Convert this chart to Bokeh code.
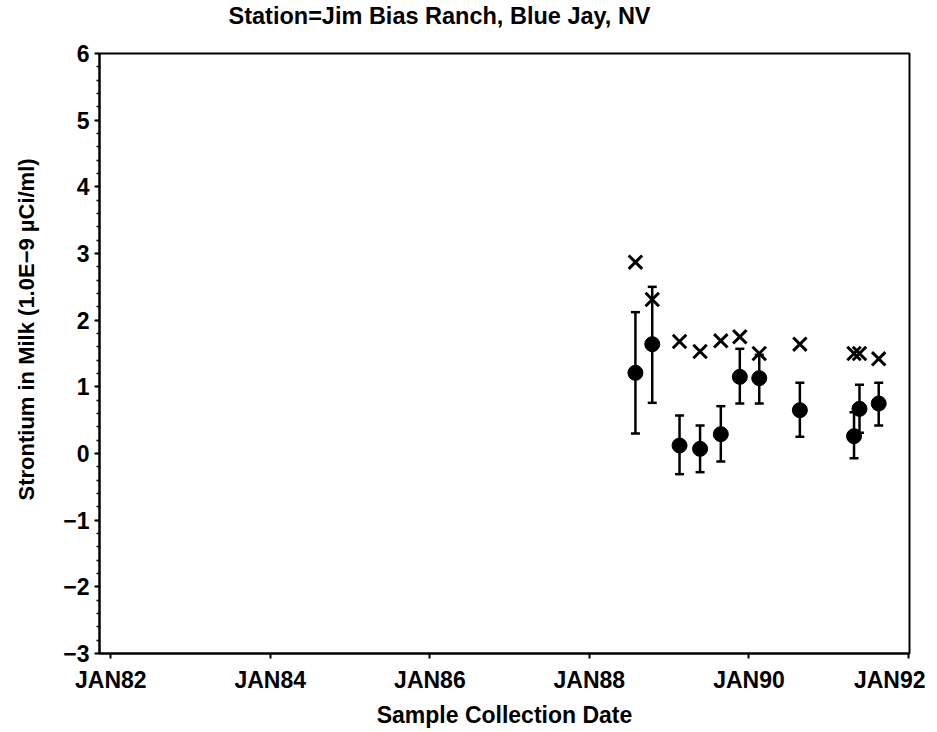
import pandas as pd
from bokeh.plotting import figure
from bokeh.models import (ColumnDataSource, Range1d, FixedTicker, CustomJSTickFormatter,
                          Whisker, TeeHead, Title)
from bokeh.embed import file_html
from bokeh.resources import INLINE

# ---- data ----
dates = ["1988-07-30", "1988-10-15", "1989-02-17", "1989-05-22", "1989-08-25",
         "1989-11-20", "1990-02-17", "1990-08-22", "1991-04-27", "1991-05-22",
         "1991-08-18"]
strontium = [1.21, 1.64, 0.12, 0.07, 0.29, 1.15, 1.13, 0.65, 0.26, 0.67, 0.75]
err_upper = [2.12, 2.50, 0.57, 0.42, 0.71, 1.57, 1.48, 1.06, 0.62, 1.03, 1.06]
err_lower = [0.30, 0.76, -0.31, -0.28, -0.12, 0.75, 0.75, 0.25, -0.07, 0.31, 0.42]
mda = [2.87, 2.31, 1.68, 1.53, 1.69, 1.75, 1.50, 1.64, 1.50, 1.50, 1.42]

x_tick_years = [1982, 1984, 1986, 1988, 1990, 1992]
y_ticks = [-3, -2, -1, 0, 1, 2, 3, 4, 5, 6]
x_start, x_end = "1981-11-10", "1992-01-06"

title_text = "Station=Jim Bias Ranch, Blue Jay, NV"
x_label = "Sample Collection Date"
y_label = "Strontium in Milk (1.0E\u22129 \u00b5Ci/ml)"

# ---- build ----
src = ColumnDataSource(dict(date=pd.to_datetime(dates), val=strontium,
                            up=err_upper, lo=err_lower, mda=mda))

FONT = "Liberation Sans"

p = figure(width=925, height=730, x_axis_type="datetime",
           output_backend="svg", toolbar_location=None,
           min_border_left=99, min_border_right=16, min_border_top=53, min_border_bottom=77)
p.x_range = Range1d(pd.Timestamp(x_start), pd.Timestamp(x_end))
p.y_range = Range1d(-3, 6)

p.grid.visible = False
p.outline_line_color = "black"
p.outline_line_width = 2
p.background_fill_color = "white"
p.border_fill_color = "white"

tick_ms = [pd.Timestamp(f"{y}-01-01").value // 10**6 for y in x_tick_years]
p.xaxis.ticker = FixedTicker(ticks=tick_ms, minor_ticks=[])
p.xaxis.formatter = CustomJSTickFormatter(
    code="const d = new Date(tick); return 'JAN' + String(d.getUTCFullYear()).slice(2);")

minor_y = [round(-3 + 0.2 * i, 2) for i in range(46)]
p.yaxis.ticker = FixedTicker(ticks=y_ticks, minor_ticks=minor_y)
p.yaxis.major_label_overrides = {v: (f"\u2212{abs(v)}" if v < 0 else str(v)) for v in y_ticks}

for ax in (p.xaxis[0], p.yaxis[0]):
    ax.axis_line_width = 2
    ax.axis_line_color = "black"
    ax.major_tick_line_width = 2
    ax.minor_tick_line_width = 1.5
    ax.major_tick_out = 5
    ax.major_tick_in = 0
    ax.minor_tick_out = 3
    ax.minor_tick_in = 0
    ax.major_label_text_font = FONT
    ax.major_label_text_font_size = "23px"
    ax.major_label_text_font_style = "bold"
    ax.major_label_text_color = "black"
    ax.axis_label_text_font = FONT
    ax.axis_label_text_font_size = "23px"
    ax.axis_label_text_font_style = "bold"
    ax.axis_label_text_color = "black"

p.xaxis.axis_label = x_label
p.xaxis.major_label_standoff = 8
p.xaxis.axis_label_standoff = 6
p.yaxis.major_label_standoff = 5

# spacer + title above (first added sits nearest the frame)
p.add_layout(Title(text=" ", text_font_size="10px", standoff=12), "above")
p.add_layout(Title(text=title_text, align="left", offset=129, text_font=FONT,
                   text_font_size="23.5px", text_font_style="bold", text_color="black",
                   standoff=0), "above")

# spacer + y-axis label on the left, placed off-centre like the reference
p.add_layout(Title(text=" ", text_font_size="10px", standoff=9), "left")
p.add_layout(Title(text=y_label, align="left", offset=153, text_font=FONT,
                   text_font_size="22px", text_font_style="bold", text_color="black",
                   standoff=0), "left")

w = Whisker(source=src, base="date", upper="up", lower="lo", dimension="height",
            line_color="black", line_width=2.5,
            upper_head=TeeHead(size=9, line_width=2.5, line_color="black"),
            lower_head=TeeHead(size=9, line_width=2.5, line_color="black"))
p.add_layout(w)

p.scatter("date", "val", source=src, marker="circle", size=15,
          fill_color="black", line_color="black")
p.scatter("date", "mda", source=src, marker="x", size=19,
          line_color="black", line_width=3)

open("out.html", "w").write(file_html(p, INLINE))
